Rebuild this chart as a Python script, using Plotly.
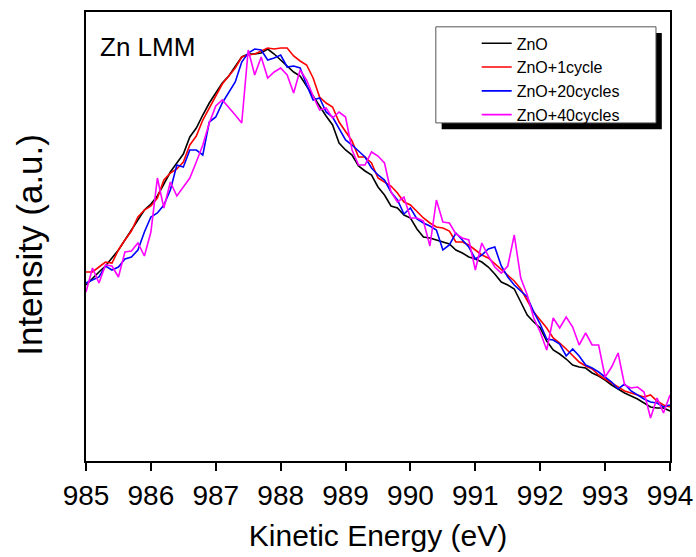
import plotly.graph_objects as go

energy_start = 985.0
energy_step = 0.1
n_points = 91
energy = [round(energy_start + i * energy_step, 1) for i in range(n_points)]

zno = [176, 183, 189, 195, 203, 211, 221, 231, 242, 251, 257,
       265, 277, 289, 298, 307, 324, 333, 346, 358, 368,
       378, 385, 394, 404, 407, 407, 408, 412, 407, 401,
       395, 389, 385, 375, 365, 354, 345, 336, 318, 311,
       306, 295, 290, 286, 274, 266, 255, 253, 246, 243,
       232, 224, 223, 221, 219, 217, 211, 208, 204, 202,
       199, 194, 187, 179, 176, 172, 159, 146, 139, 133,
       120, 111, 107, 102, 96, 94, 93, 88, 85, 81,
       76, 72, 68, 65, 62, 58, 54, 53, 53, 50]

zno_1cycle = [189, 189, 194, 199, 198, 211, 221, 230, 244, 251, 255,
              263, 281, 288, 292, 299, 316, 325, 341, 353, 365,
              377, 385, 393, 404, 406, 407, 410, 413, 412, 413,
              413, 405, 400, 396, 383, 364, 358, 354, 339, 330,
              320, 304, 304, 298, 283, 279, 275, 268, 259, 256,
              249, 243, 238, 234, 233, 230, 219, 219, 216, 211,
              206, 203, 197, 191, 186, 180, 172, 161, 149, 141,
              133, 123, 118, 112, 106, 99, 95, 92, 86, 82,
              78, 74, 70, 68, 66, 64, 66, 60, 56, 54]

zno_20cycles = [178, 181, 184, 195, 191, 194, 202, 204, 211, 229, 244,
                248, 256, 271, 296, 294, 311, 311, 306, 339, 344,
                358, 369, 379, 399, 408, 412, 411, 401, 403, 406,
                394, 395, 393, 376, 361, 363, 349, 344, 333, 321,
                316, 310, 304, 293, 286, 281, 269, 261, 247, 253,
                242, 238, 235, 231, 211, 216, 228, 221, 214, 202,
                206, 212, 214, 195, 184, 176, 170, 164, 149, 137,
                122, 121, 117, 105, 112, 105, 96, 93, 89, 84,
                79, 72, 77, 70, 66, 62, 59, 58, 54, 56]

zno_40cycles = [169, 193, 178, 196, 195, 184, 209, 210, 218, 205, 229,
                283, 253, 279, 265, 274, 283, 299, 316, 338, 355,
                361, 354, 346, 338, 411, 386, 404, 383, 389, 393,
                386, 368, 391, 381, 365, 351, 353, 343, 349, 344,
                311, 296, 296, 309, 305, 298, 269, 259, 264, 243,
                243, 240, 215, 261, 239, 238, 227, 223, 221, 191,
                218, 205, 194, 188, 195, 226, 183, 166, 143, 129,
                111, 143, 133, 144, 134, 116, 128, 116, 116, 84,
                94, 108, 76, 73, 74, 69, 43, 63, 48, 66]

series_names = ["ZnO", "ZnO+1cycle", "ZnO+20cycles", "ZnO+40cycles"]
series_values = [zno, zno_1cycle, zno_20cycles, zno_40cycles]
series_colors = ["#000000", "#ff0000", "#0000ff", "#ff00ff"]

x_ticks = [985, 986, 987, 988, 989, 990, 991, 992, 993, 994]

fig = go.Figure()
for name, vals, col in zip(series_names, series_values, series_colors):
    fig.add_trace(go.Scatter(x=energy, y=vals, mode="lines", name=name,
                             line=dict(color=col, width=1.6)))

font_family = "Arial, Liberation Sans, sans-serif"

fig.update_layout(
    width=696, height=557,
    margin=dict(l=86, r=26, t=12, b=96, autoexpand=False),
    paper_bgcolor="white", plot_bgcolor="white",
    font=dict(family=font_family, color="black"),
    showlegend=True,
    legend=dict(x=0.669, y=0.968, xanchor="left", yanchor="top",
                bgcolor="rgba(0,0,0,0)", borderwidth=0,
                font=dict(size=16, family=font_family, color="black"),
                itemwidth=30, tracegroupgap=0),
    xaxis=dict(range=[985, 994], tickvals=x_ticks,
               ticktext=[str(t) for t in x_ticks],
               ticks="outside", ticklen=8, tickwidth=1.5, tickcolor="black",
               showline=True, linewidth=2, linecolor="black", mirror=True,
               showgrid=False, zeroline=False, automargin=False,
               tickfont=dict(size=28, family=font_family),
               title=dict(text="Kinetic Energy (eV)", standoff=15,
                          font=dict(size=30, family=font_family))),
    yaxis=dict(range=[0, 449], showticklabels=False, ticks="",
               showline=True, linewidth=2, linecolor="black", mirror=True,
               showgrid=False, zeroline=False, automargin=False),
    annotations=[
        dict(text="Zn LMM", xref="paper", yref="paper",
             x=0.02, y=0.96, xanchor="left", yanchor="top",
             showarrow=False, font=dict(size=26, family=font_family)),
        dict(text="Intensity (a.u.)", xref="paper", yref="paper",
             x=-0.098, y=0.481, xanchor="center", yanchor="middle",
             textangle=-90, showarrow=False,
             font=dict(size=35, family=font_family)),
    ],
    shapes=[
        dict(type="rect", xref="paper", yref="paper",
             x0=0.609, x1=0.986, y0=0.739, y1=0.953,
             fillcolor="black", line=dict(width=0), layer="above"),
        dict(type="rect", xref="paper", yref="paper",
             x0=0.599, x1=0.976, y0=0.753, y1=0.967,
             fillcolor="white", line=dict(color="#555555", width=1), layer="above"),
    ],
)

fig.write_html("out.html")
